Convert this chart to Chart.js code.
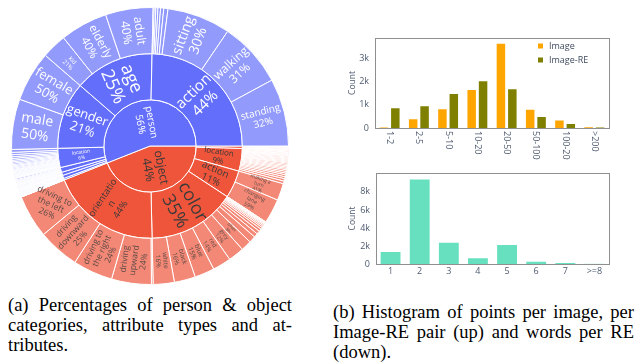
<!DOCTYPE html>
<html>
<head>
<meta charset="utf-8">
<script src="https://cdn.jsdelivr.net/npm/chart.js@4.4.0/dist/chart.umd.min.js"></script>
<style>
    body { margin: 0; width: 639px; height: 363px; background: #fff; position: relative; overflow: hidden; }
    .box { position: absolute; }
    #sunBox { left: 0; top: 0; width: 300px; height: 292px; }
    #upBox { left: 330px; top: 0; width: 300px; height: 160px; }
    #downBox { left: 330px; top: 160px; width: 300px; height: 122px; }
    .cap { position: absolute; font-family: "Liberation Serif", "Times New Roman", serif; font-size: 18.5px; line-height: 20px; color: #000; }
    .cap div { text-align: justify; text-align-last: justify; white-space: nowrap; }
    .cap div.last { text-align-last: left; }
    #capA { left: 8px; top: 295px; width: 284px; }
    #capB { left: 333px; top: 302px; width: 301px; }
</style>
</head>
<body>
<div class="box" id="sunBox"><canvas id="sunChart"></canvas></div>
<div class="box" id="upBox"><canvas id="upChart"></canvas></div>
<div class="box" id="downBox"><canvas id="downChart"></canvas></div>
<div class="cap" id="capA">
    <div>(a) Percentages of person &amp; object</div>
    <div>categories, attribute types and at-</div>
    <div class="last">tributes.</div>
</div>
<div class="cap" id="capB">
    <div>(b) Histogram of points per image, per</div>
    <div>Image-RE pair (up) and words per RE</div>
    <div class="last">(down).</div>
</div>
<script>
// ---- sunburst data (percent of parent, plotly order) ----
const rootNames = ["person", "object"];
const rootPct = [56, 44];

const personTypes = ["action", "age", "gender", "location", "", "", "", ""];
const personTypePct = [44, 25, 21, 6, 1.5, 1, 1, 0.5];
const objectTypes = ["orientation", "color", "action", "location", ""];
const objectTypePct = [44, 35, 11, 9, 1];

const personActionNames = ["standing", "walking", "sitting"];
const personActionPct = [32, 31, 30, 2, 1.5, 1.2, 1, 0.8, 0.5];
const ageNames = ["adult", "elderly", "kid"];
const agePct = [40, 40, 21];
const genderNames = ["female", "male"];
const genderPct = [50, 50];
const personLocationPct = [10, 8, 7, 6, 6, 5, 5, 5, 4, 4, 4, 4, 3, 3, 3, 3, 3, 3, 2, 2, 2, 2, 2, 2, 1, 1];
const tinyPct = [3, 2, 2, 1.5, 1, 1, 1, 0.8, 0.6, 0.5, 0.5, 0.4, 0.3, 0.2];

const orientationNames = ["driving to the left", "driving downward", "driving to the right", "driving upward"];
const orientationPct = [26, 25, 24, 24, 1];
const colorNames = ["white", "black", "blue", "red", "grey", "silver", "green"];
const colorPct = [16, 16, 15, 14, 12, 8, 5, 3, 2.5, 2, 1.5, 1.2, 1, 0.8, 0.6, 0.5, 0.4, 0.3, 0.2];
const objectActionNames = ["changing lane", "making a turn"];
const objectActionPct = [59, 41];
const objectLocationPct = [8, 7, 6, 6, 5, 5, 5, 4, 4, 4, 4, 4, 3, 3, 3, 3, 3, 3, 3, 2, 2, 2, 2, 2, 2, 2, 1, 1, 1, 1];

// ---- histogram data ----
const pointBins = ["1-2", "2-5", "5-10", "10-20", "20-50", "50-100", "100-200", ">200"];
const imageCounts = [50, 420, 850, 1680, 3670, 830, 370, 70];
const imageRECounts = [890, 980, 1510, 2050, 1710, 520, 220, 50];
const upTicks = [0, 1000, 2000, 3000];
const wordBins = ["1", "2", "3", "4", "5", "6", "7", ">=8"];
const wordCounts = [1450, 9500, 2480, 740, 2220, 370, 220, 50];
const downTicks = [0, 2000, 4000, 6000, 8000];

Chart.defaults.font.family = "'Open Sans', sans-serif";
const tickColor = "#4f5b70";

// build the hierarchy
function leaves(names, pcts) {
    return pcts.map((p, i) => ({ name: (names && names[i]) || "", pct: p }));
}
const personKids = [
    leaves(personActionNames, personActionPct),
    leaves(ageNames, agePct),
    leaves(genderNames, genderPct),
    leaves(null, personLocationPct),
    leaves(null, tinyPct), leaves(null, tinyPct), leaves(null, tinyPct), leaves(null, tinyPct),
];
const objectKids = [
    leaves(orientationNames, orientationPct),
    leaves(colorNames, colorPct),
    leaves(objectActionNames, objectActionPct),
    leaves(null, objectLocationPct),
    leaves(null, tinyPct),
];
const tree = [
    { name: rootNames[0], pct: rootPct[0], children: personTypes.map((n, i) => ({ name: n, pct: personTypePct[i], children: personKids[i] })) },
    { name: rootNames[1], pct: rootPct[1], children: objectTypes.map((n, i) => ({ name: n, pct: objectTypePct[i], children: objectKids[i] })) },
];

// flatten into rings, clockwise from 3 o'clock (reverse of plotly order)
const rings = [[], [], []];
function walk(list, share, depth, path, root) {
    const total = list.reduce((a, n) => a + n.pct, 0);
    list.slice().reverse().forEach((n) => {
        const s = (share * n.pct) / total;
        const key = path ? path + "/" + n.name : n.name;
        const r = root || n.name;
        rings[depth].push({ value: s, key: key, name: n.name, pct: n.pct, root: r, depth: depth });
        if (n.children) walk(n.children, s, depth + 1, key, r);
    });
}
walk(tree, 100, 0, "", null);

const baseColor = { person: "#636efa", object: "#ef553b" };
const leafColor = { person: "#929afb", object: "#f48876" };
const textColor = { person: ["#ffffff", "#ffffff", "#ffffff"], object: ["#3a3a3a", "#3a3a3a", "#5a4a46"] };

// label styles (font size, line wrap, rotation override)
const labelStyle = {
    "person": { size: 10 },
    "object": { size: 12 },
    "person/action": { size: 15 },
    "person/age": { size: 18 },
    "person/gender": { size: 13 },
    "person/location": { size: 5 },
    "object/orientation": { size: 9.5, lines: ["orientatio", "n"] },
    "object/color": { size: 18 },
    "object/action": { size: 10 },
    "object/location": { size: 8 },
    "person/action/standing": { size: 10 },
    "person/action/walking": { size: 12 },
    "person/action/sitting": { size: 14 },
    "person/age/adult": { size: 12 },
    "person/age/elderly": { size: 11.5 },
    "person/age/kid": { size: 6 },
    "person/gender/female": { size: 13 },
    "person/gender/male": { size: 14 },
    "object/orientation/driving to the left": { size: 8.5, lines: ["driving to", "the left"], rot: 25 },
    "object/orientation/driving downward": { size: 8.5, lines: ["driving", "downward"] },
    "object/orientation/driving to the right": { size: 8.5, lines: ["driving to", "the right"] },
    "object/orientation/driving upward": { size: 8.5, lines: ["driving", "upward"] },
    "object/color/white": { size: 6.5 },
    "object/color/black": { size: 6.5 },
    "object/color/blue": { size: 6.5 },
    "object/color/red": { size: 6 },
    "object/color/grey": { size: 5.5 },
    "object/color/silver": { size: 4.5 },
    "object/action/changing lane": { size: 5.5, lines: ["changing", "lane"] },
    "object/action/making a turn": { size: 5, lines: ["making a", "turn"] },
};

function makeRing(list) {
    return {
        data: list.map((n) => n.value),
        info: list,
        backgroundColor: list.map((n) => (n.depth === 2 ? leafColor[n.root] : baseColor[n.root])),
        borderColor: "#ffffff",
        borderWidth: 1,
        borderJoinStyle: "bevel",
    };
}

// draws the sector labels from the arc elements
const sunLabels = {
    id: "sunLabels",
    afterDatasetsDraw(chart) {
        const ctx = chart.ctx;
        chart.data.datasets.forEach((ds, d) => {
            const meta = chart.getDatasetMeta(d);
            meta.data.forEach((arc, i) => {
                const info = ds.info[i];
                const st = labelStyle[info.key];
                if (!info.name || !st) return;
                const p = arc.getProps(["x", "y", "startAngle", "endAngle", "innerRadius", "outerRadius"], true);
                const mid = (p.startAngle + p.endAngle) / 2;
                const r = (p.innerRadius + p.outerRadius) / 2;
                let rot = mid;
                while (rot > Math.PI / 2) rot -= Math.PI;
                while (rot <= -Math.PI / 2) rot += Math.PI;
                if (st.rot !== undefined) rot = (st.rot * Math.PI) / 180;
                const lines = (st.lines || [info.name]).concat([info.pct + "%"]);
                const lh = st.size * 1.12;
                ctx.save();
                ctx.translate(p.x + r * Math.cos(mid), p.y + r * Math.sin(mid));
                ctx.rotate(rot);
                ctx.font = st.size + "px 'Open Sans'";
                ctx.fillStyle = textColor[info.root][info.depth];
                ctx.textAlign = "center";
                ctx.textBaseline = "middle";
                lines.forEach((t, k) => ctx.fillText(t, 0, (k - (lines.length - 1) / 2) * lh));
                ctx.restore();
            });
        });
    },
};

new Chart(document.getElementById("sunChart"), {
    type: "doughnut",
    data: { datasets: [makeRing(rings[2]), makeRing(rings[1]), makeRing(rings[0])] },
    options: {
        responsive: true,
        maintainAspectRatio: false,
        animation: false,
        rotation: 90,
        cutout: 0,
        layout: { padding: { left: 11, right: 11, top: 7, bottom: 7 } },
        plugins: { legend: { display: false }, tooltip: { enabled: false } },
    },
    plugins: [sunLabels],
});

// ---- histogram helpers ----
const frame = {
    id: "frame",
    afterDraw(chart) {
        const a = chart.chartArea, ctx = chart.ctx;
        ctx.save();
        ctx.strokeStyle = "#8f8f8f";
        ctx.lineWidth = 1;
        ctx.strokeRect(Math.round(a.left) + 0.5, Math.round(a.top) + 0.5, Math.round(a.right - a.left), Math.round(a.bottom - a.top));
        ctx.restore();
    },
};

const rotatedX = {
    id: "rotatedX",
    afterDraw(chart) {
        const sx = chart.scales.x, ctx = chart.ctx;
        ctx.save();
        ctx.font = "9px 'Open Sans'";
        ctx.fillStyle = tickColor;
        ctx.textAlign = "left";
        ctx.textBaseline = "middle";
        chart.data.labels.forEach((lab, i) => {
            ctx.save();
            ctx.translate(sx.getPixelForTick(i), chart.chartArea.bottom + 3);
            ctx.rotate(Math.PI / 2);
            ctx.fillText(lab, 0, 0);
            ctx.restore();
        });
        ctx.restore();
    },
};

const innerLegend = {
    id: "innerLegend",
    afterDraw(chart) {
        const ctx = chart.ctx;
        ctx.save();
        ctx.font = "9px 'Open Sans'";
        ctx.textBaseline = "middle";
        chart.data.datasets.forEach((ds, i) => {
            const y = 46 + i * 14;
            ctx.fillStyle = ds.backgroundColor;
            ctx.fillRect(208, y - 2.5, 5, 5);
            ctx.fillStyle = "#3f4a5e";
            ctx.fillText(ds.label, 219, y);
        });
        ctx.restore();
    },
};

function kLabel(v) {
    return v === 0 ? "0" : v / 1000 + "k";
}

new Chart(document.getElementById("upChart"), {
    type: "bar",
    data: {
        labels: pointBins,
        datasets: [
            { label: "Image", data: imageCounts, backgroundColor: "#ffa500", borderColor: "rgba(255,255,255,0.55)", borderWidth: 1, categoryPercentage: 0.78, barPercentage: 0.92 },
            { label: "Image-RE", data: imageRECounts, backgroundColor: "#808000", borderColor: "rgba(255,255,255,0.55)", borderWidth: 1, categoryPercentage: 0.78, barPercentage: 0.92 },
        ],
    },
    options: {
        responsive: true,
        maintainAspectRatio: false,
        animation: false,
        layout: { padding: { top: 38, right: 21, left: 0, bottom: 0 } },
        plugins: { legend: { display: false }, tooltip: { enabled: false } },
        scales: {
            x: {
                grid: { display: false, drawTicks: false },
                border: { display: false },
                ticks: { display: false },
                afterFit(s) { s.height = 32; },
            },
            y: {
                min: 0,
                max: 3870,
                grid: { display: false, drawTicks: false },
                border: { display: false },
                ticks: { autoSkip: false, callback: kLabel, color: tickColor, font: { size: 9 }, padding: 6 },
                afterBuildTicks(s) { s.ticks = upTicks.map((v) => ({ value: v })); },
                title: { display: true, text: "Count", color: tickColor, font: { size: 8.5 }, padding: { top: 17, bottom: 0 } },
                afterFit(s) { s.width = 45; },
            },
        },
    },
    plugins: [frame, rotatedX, innerLegend],
});

new Chart(document.getElementById("downChart"), {
    type: "bar",
    data: {
        labels: wordBins,
        datasets: [
            { label: "Count", data: wordCounts, backgroundColor: "rgb(102,224,190)", borderColor: "rgba(255,255,255,0.55)", borderWidth: 1, categoryPercentage: 0.75, barPercentage: 1 },
        ],
    },
    options: {
        responsive: true,
        maintainAspectRatio: false,
        animation: false,
        layout: { padding: { top: 13, right: 21, left: 0, bottom: 0 } },
        plugins: { legend: { display: false }, tooltip: { enabled: false } },
        scales: {
            x: {
                grid: { display: false, drawTicks: false },
                border: { display: false },
                ticks: { color: tickColor, font: { size: 9 }, maxRotation: 0, padding: 2 },
                afterFit(s) { s.height = 18; },
            },
            y: {
                min: 0,
                max: 10100,
                grid: { display: false, drawTicks: false },
                border: { display: false },
                ticks: { autoSkip: false, callback: kLabel, color: tickColor, font: { size: 9 }, padding: 6 },
                afterBuildTicks(s) { s.ticks = downTicks.map((v) => ({ value: v })); },
                title: { display: true, text: "Count", color: tickColor, font: { size: 8.5 }, padding: { top: 17, bottom: 0 } },
                afterFit(s) { s.width = 46; },
            },
        },
    },
    plugins: [frame],
});
</script>
</body>
</html>
